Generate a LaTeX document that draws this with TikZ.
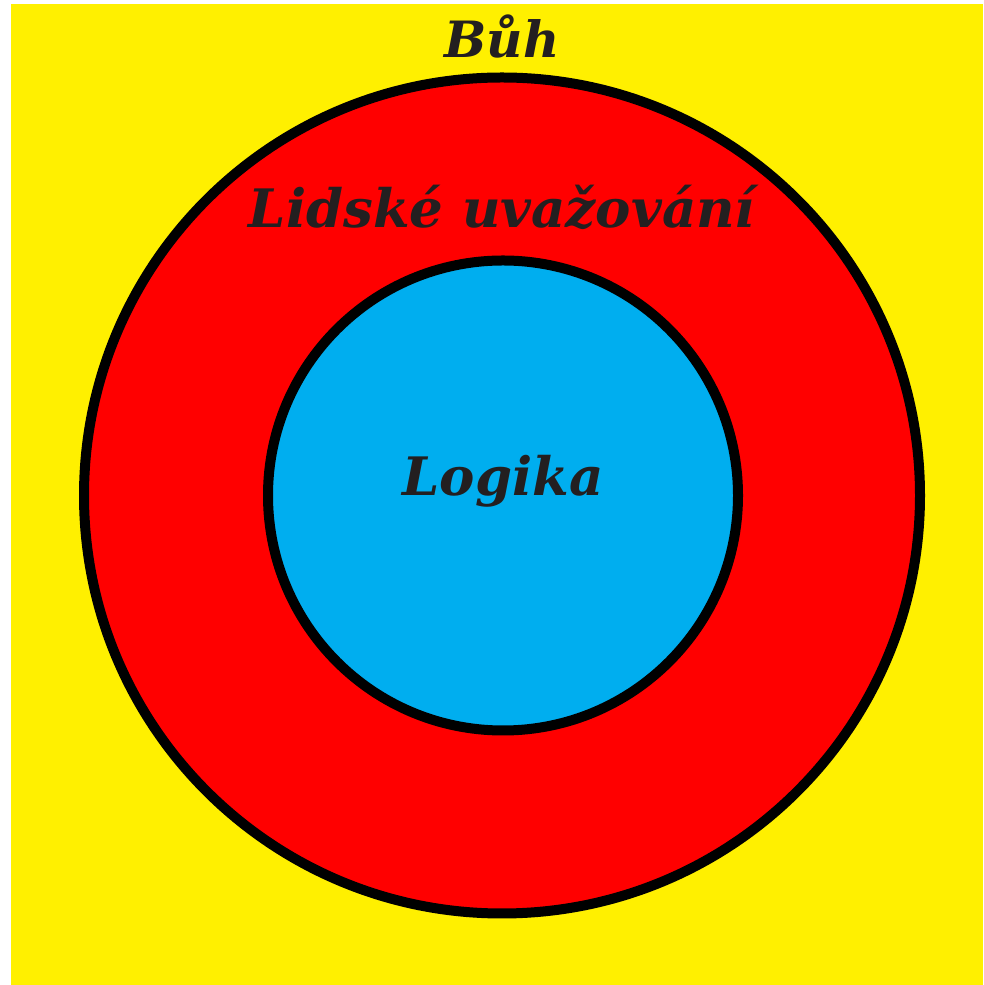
\documentclass[tikz,border=0pt]{standalone}
\usepackage{fontspec}
\setmainfont{DejaVu Serif}
\definecolor{bgyellow}{HTML}{FFF000}
\definecolor{ringred}{HTML}{FF0000}
\definecolor{coreblue}{HTML}{00AEEF}
\definecolor{txt}{HTML}{231F20}
\begin{document}
\begin{tikzpicture}[x=1pt,y=1pt,
  lbl/.style={anchor=base,text=txt,font=\fontsize{53}{60}\selectfont\bfseries\itshape,inner sep=0pt},
  ring/.style={draw=black,line width=10pt}]
\useasboundingbox (0,0) rectangle (983,985);
\fill[bgyellow] (11,0) rectangle (983,981);
\node[ring,fill=ringred,circle,minimum size=836pt,inner sep=0pt] (outer) at (502,489.5) {};
\node[ring,fill=coreblue,circle,minimum size=470pt,inner sep=0pt] (inner) at (503,489.5) {};
\node[lbl,font=\fontsize{50}{60}\selectfont\bfseries\itshape] (buh) at (502,927) {Bůh};
\node[lbl] (lidske) at (502,757) {Lidské uvažování};
\node[lbl] (logika) at (503,489) {Logika};
\end{tikzpicture}
\end{document}
